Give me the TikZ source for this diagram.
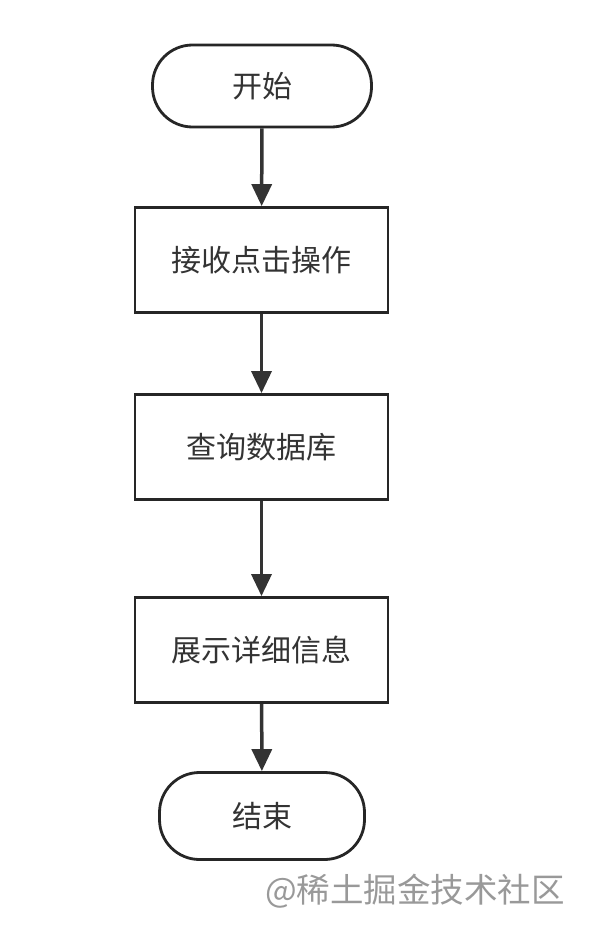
\documentclass[tikz,border=0pt]{standalone}
\usepackage{fontspec}
\newfontfamily\cjk{Noto Sans CJK SC}
\usetikzlibrary{arrows.meta}
\begin{document}
\begin{tikzpicture}[x=1pt,y=-1pt,
  box/.style={draw=black!85,line width=2.8pt,minimum width=253pt,minimum height=105pt,font=\cjk\fontsize{30}{34}\selectfont,text=black!80},
  term/.style={box,rounded corners=40pt},
  arr/.style={line width=3.5pt,draw=black!80,-{Triangle[length=22pt,width=20pt]}}]
\useasboundingbox (0,0) rectangle (604,942);
\node[term,minimum width=219pt,minimum height=82pt] (s) at (262,86) {开始};
\node[box] (a) at (261.5,260) {接收点击操作};
\node[box] (b) at (261.5,447) {查询数据库};
\node[box] (c) at (261.5,650) {展示详细信息};
\node[term,minimum width=205pt,minimum height=87pt] (e) at (262,816) {结束};
\draw[arr] (s) -- (a);
\draw[arr] (a) -- (b);
\draw[arr] (b) -- (c);
\draw[arr] (c) -- (e);
\node[font=\cjk\fontsize{33.5}{36}\selectfont,text=black!40] (w) at (415,891) {@稀土掘金技术社区};
\end{tikzpicture}
\end{document}
